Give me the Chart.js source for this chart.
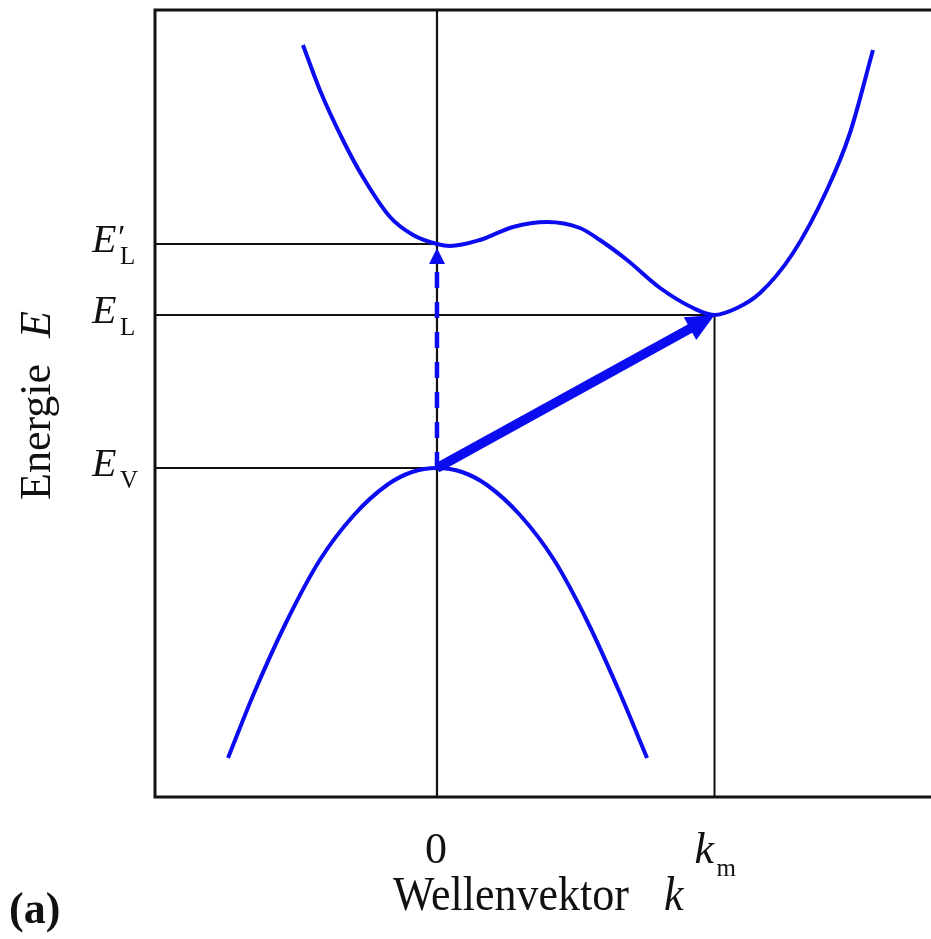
<!DOCTYPE html>
<html>
<head>
<meta charset="utf-8">
<script src="https://cdn.jsdelivr.net/npm/chart.js@4.4.0/dist/chart.umd.min.js"></script>
<style>
html, body { margin: 0; padding: 0; background: #fff; overflow: hidden; }
#wrap { width: 931px; height: 939px; }
</style>
</head>
<body>
<div id="wrap"><canvas id="bandChart" width="931" height="939"></canvas></div>
<script>
// Energieniveaus (willkuerliche Einheiten, E_V = 0) und Wellenvektor (k_m = 1)
const E_V = 0
const E_L = 1.53
const E_L2 = 2.24
const k_m = 1

const xMin = -1.016, xMax = 1.78
const yMin = -3.29, yMax = 4.58

// Leitungsband
const kLeitung = [-0.483, -0.422, -0.339, -0.267, -0.169, -0.086, 0, 0.047, 0.155, 0.274, 0.396, 0.515, 0.587, 0.685, 0.804, 0.923, 0.998, 1.081, 1.164, 1.283, 1.405, 1.488, 1.571]
const eLeitung = [4.23, 3.78, 3.28, 2.91, 2.51, 2.33, 2.24, 2.22, 2.28, 2.41, 2.46, 2.40, 2.28, 2.08, 1.80, 1.60, 1.53, 1.60, 1.75, 2.15, 2.78, 3.35, 4.18]

// Valenzband
const kValenz = [-0.753, -0.659, -0.541, -0.422, -0.299, -0.180, -0.090, 0, 0.090, 0.180, 0.299, 0.422, 0.541, 0.659, 0.757]
const eValenz = [-2.90, -2.25, -1.53, -0.92, -0.47, -0.17, -0.04, 0, -0.04, -0.17, -0.47, -0.92, -1.53, -2.25, -2.90]

// Achsenbeschriftung
const yTickWerte = [E_L2, E_L, E_V]
const yTickIndex = ['L', 'L', 'V']
const yTickStrich = [true, false, false]
const xTickWerte = [0, k_m]
const xTickText = ['0', 'k']
const xTickIndex = ['', 'm']

// Uebergaenge: direkt (gestrichelt) und indirekt
const pfeilVon = [[0, E_V], [0, E_V]]
const pfeilBis = [[0, E_L2 - 0.04], [k_m, E_L]]

const blau = '#0c0cf0'
const schwarz = '#111'
const serif = '"Liberation Serif", "DejaVu Serif", serif'

function linie(punkte, farbe, breite) {
    return {
        data: punkte.map(p => ({ x: p[0], y: p[1] })),
        borderColor: farbe,
        borderWidth: breite,
        pointRadius: 0,
        fill: false,
        tension: 0
    }
}

const kurveLeitung = {
    data: kLeitung.map((k, i) => ({ x: k, y: eLeitung[i] })),
    borderColor: blau, borderWidth: 4, pointRadius: 0, fill: false,
    cubicInterpolationMode: 'monotone'
}
const kurveValenz = {
    data: kValenz.map((k, i) => ({ x: k, y: eValenz[i] })),
    borderColor: blau, borderWidth: 4, pointRadius: 0, fill: false,
    cubicInterpolationMode: 'monotone'
}

const hilfslinien = [
    linie([[xMin, E_L2], [0, E_L2]], schwarz, 2),
    linie([[xMin, E_L], [k_m, E_L]], schwarz, 2),
    linie([[xMin, E_V], [0, E_V]], schwarz, 2),
    linie([[0, yMin], [0, yMax]], schwarz, 2.2),
    linie([[k_m, yMin], [k_m, E_L]], schwarz, 2)
]

const rahmenPlugin = {
    id: 'rahmen',
    beforeDatasetsDraw(chart) {
        const { ctx, chartArea: a } = chart
        ctx.save()
        ctx.strokeStyle = schwarz
        ctx.lineWidth = 3
        ctx.beginPath()
        ctx.moveTo(chart.width + 5, a.top)
        ctx.lineTo(a.left, a.top)
        ctx.lineTo(a.left, a.bottom)
        ctx.lineTo(chart.width + 5, a.bottom)
        ctx.stroke()
        ctx.restore()
    }
}

const pfeilStil = [
    { breite: 4.5, laenge: 16, halb: 8, dash: [16, 14] },
    { breite: 9.5, laenge: 28, halb: 13, dash: [] }
]

const pfeilPlugin = {
    id: 'pfeile',
    afterDatasetsDraw(chart) {
        const { ctx, scales } = chart
        ctx.save()
        ctx.fillStyle = blau
        ctx.strokeStyle = blau
        for (let i = 0; i < pfeilVon.length; i++) {
            const s = pfeilStil[i]
            const x0 = scales.x.getPixelForValue(pfeilVon[i][0])
            const y0 = scales.y.getPixelForValue(pfeilVon[i][1])
            const x1 = scales.x.getPixelForValue(pfeilBis[i][0])
            const y1 = scales.y.getPixelForValue(pfeilBis[i][1])
            const len = Math.hypot(x1 - x0, y1 - y0)
            const ux = (x1 - x0) / len, uy = (y1 - y0) / len
            const bx = x1 - ux * s.laenge, by = y1 - uy * s.laenge
            ctx.lineWidth = s.breite
            ctx.setLineDash(s.dash)
            ctx.beginPath()
            ctx.moveTo(x0, y0)
            ctx.lineTo(bx + ux * 2, by + uy * 2)
            ctx.stroke()
            ctx.setLineDash([])
            ctx.beginPath()
            ctx.moveTo(x1, y1)
            ctx.lineTo(bx - uy * s.halb, by + ux * s.halb)
            ctx.lineTo(bx + uy * s.halb, by - ux * s.halb)
            ctx.closePath()
            ctx.fill()
        }
        ctx.restore()
    }
}

const textPlugin = {
    id: 'texte',
    afterDraw(chart) {
        const { ctx, scales } = chart
        ctx.save()
        ctx.fillStyle = schwarz
        ctx.textBaseline = 'alphabetic'
        ctx.textAlign = 'left'

        // y-Ticks: E'_L, E_L, E_V
        yTickWerte.forEach((v, i) => {
            const py = scales.y.getPixelForValue(v)
            ctx.font = 'italic 40px ' + serif
            ctx.fillText('E', 92, py + 8)
            if (yTickStrich[i]) {
                ctx.font = 'italic 34px ' + serif
                ctx.fillText('\u2032', 116, py + 4)
            }
            ctx.font = '25px ' + serif
            ctx.fillText(yTickIndex[i], 120, py + 20)
        })

        // x-Ticks: 0, k_m
        xTickWerte.forEach((v, i) => {
            const px = scales.x.getPixelForValue(v)
            if (xTickIndex[i] === '') {
                ctx.font = '44px ' + serif
                ctx.textAlign = 'center'
                ctx.fillText(xTickText[i], px - 1, 863)
            } else {
                ctx.textAlign = 'left'
                ctx.font = 'italic 44px ' + serif
                ctx.fillText(xTickText[i], px - 20, 863)
                ctx.font = '25px ' + serif
                ctx.fillText(xTickIndex[i], px + 2, 876)
            }
        })
        ctx.textAlign = 'left'

        // x-Titel (leicht gestreckt wie im Original)
        ctx.save()
        ctx.translate(0, 910)
        ctx.scale(1, 1.08)
        ctx.font = '44px ' + serif
        ctx.fillText('Wellenvektor', 393, 0)
        ctx.font = 'italic 44px ' + serif
        ctx.fillText('k', 664, 0)
        ctx.restore()

        // y-Titel (gedreht)
        ctx.save()
        ctx.translate(50, 500)
        ctx.rotate(-Math.PI / 2)
        ctx.font = '44px ' + serif
        ctx.fillText('Energie', 0, 0)
        const w = ctx.measureText('Energie').width
        ctx.font = 'italic 44px ' + serif
        ctx.fillText('E', w + 26, 0)
        ctx.restore()

        // Teilbild
        ctx.font = 'bold 44px ' + serif
        ctx.fillText('(a)', 9, 923)
        ctx.restore()
    }
}

new Chart(document.getElementById('bandChart'), {
    type: 'line',
    data: {
        datasets: [kurveLeitung, kurveValenz].concat(hilfslinien)
    },
    plugins: [rahmenPlugin, pfeilPlugin, textPlugin],
    options: {
        responsive: false,
        animation: false,
        devicePixelRatio: 1,
        layout: { padding: { top: 10, left: 0, right: 0, bottom: 0 } },
        plugins: {
            legend: { display: false },
            tooltip: { enabled: false }
        },
        scales: {
            x: {
                type: 'linear', min: xMin, max: xMax,
                grid: { display: false }, border: { display: false },
                ticks: { display: false },
                afterFit: s => { s.height = 142 }
            },
            y: {
                type: 'linear', min: yMin, max: yMax,
                grid: { display: false }, border: { display: false },
                ticks: { display: false },
                afterFit: s => { s.width = 155 }
            }
        }
    }
})
</script>
</body>
</html>
